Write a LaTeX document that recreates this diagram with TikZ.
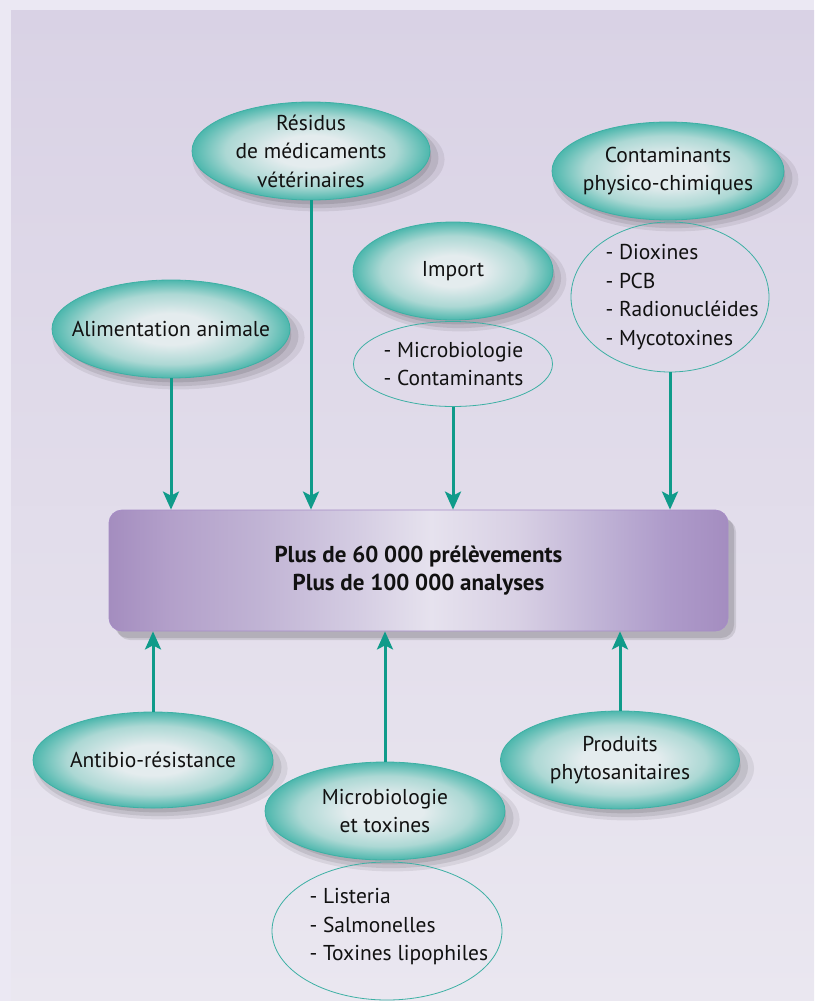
\documentclass[tikz,border=0pt]{standalone}
\usepackage{fontspec}
\setmainfont{PT Sans}
\usetikzlibrary{shapes.geometric,arrows.meta,shadows}
\definecolor{outerbg}{HTML}{EBE8F3}
\definecolor{paneltop}{HTML}{D9D2E5}
\definecolor{panelbot}{HTML}{EAE7F0}
\definecolor{arrteal}{HTML}{0F9B8A}
\definecolor{elldark}{HTML}{4DB7AD}
\definecolor{ellmid}{HTML}{ACD8D4}
\definecolor{elllight}{HTML}{E4ECEE}
\definecolor{ellline}{HTML}{3DB0A4}
\definecolor{boxa}{HTML}{A48DBF}
\definecolor{boxb}{HTML}{B3A0CA}
\definecolor{boxc}{HTML}{C0B3D4}
\definecolor{boxd}{HTML}{D4CCE2}
\definecolor{boxe}{HTML}{E6E2EE}
\definecolor{boxf}{HTML}{D8D0E4}
\definecolor{boxg}{HTML}{C2B6D7}
\definecolor{boxh}{HTML}{AE9BCA}
\definecolor{boxi}{HTML}{A48DC0}
\definecolor{boxline}{HTML}{A68DC6}
\definecolor{txt}{HTML}{111111}
\pgfdeclareradialshading{ellshade}{\pgfpoint{0bp}{0bp}}{color(0bp)=(elllight); color(8bp)=(elllight); color(18bp)=(ellmid); color(25bp)=(elldark); color(50bp)=(elldark)}
\pgfdeclarehorizontalshading{boxshade}{100bp}{color(0bp)=(boxa); color(25bp)=(boxa); color(30bp)=(boxb); color(37bp)=(boxc); color(45bp)=(boxd); color(51bp)=(boxe); color(58bp)=(boxf); color(64bp)=(boxg); color(70bp)=(boxh); color(75bp)=(boxi); color(100bp)=(boxi)}
\tikzset{
  softshadow/.style={
    general shadow={shadow xshift=7pt,shadow yshift=-8pt,shadow scale=1.06,fill=black,opacity=0.07},
    general shadow={shadow xshift=6pt,shadow yshift=-7pt,shadow scale=1.02,fill=black,opacity=0.09},
    general shadow={shadow xshift=5pt,shadow yshift=-6pt,shadow scale=0.97,fill=black,opacity=0.10}},
  ell/.style={ellipse, draw=ellline, line width=0.8pt, shading=ellshade,
    minimum width=238pt, minimum height=98pt, inner sep=0pt, softshadow},
  subell/.style={ellipse, draw=ellline, line width=0.8pt, inner sep=0pt},
  lbl/.style={align=center, text=txt, font=\fontsize{21.5}{28.5}\selectfont},
  lst/.style={align=left, text=txt, font=\fontsize{21.5}{28.5}\selectfont, anchor=west},
  bigbox/.style={rectangle, rounded corners=13pt, draw=boxline, line width=0.8pt,
    shading=boxshade, minimum width=619pt, minimum height=121pt, inner sep=0pt,
    general shadow={shadow xshift=8pt,shadow yshift=-9pt,fill=black,opacity=0.10},
    general shadow={shadow xshift=6pt,shadow yshift=-7pt,fill=black,opacity=0.12},
    align=center, text=txt, font=\fontsize{23}{28}\selectfont\bfseries},
  arr/.style={draw=arrteal, line width=3pt, -{Stealth[length=18pt,width=16pt,inset=4pt]}}
}
\begin{document}
\begin{tikzpicture}[x=1pt,y=-1pt]
\useasboundingbox (0,0) rectangle (814,1001);
\fill[outerbg] (0,0) rectangle (814,1001);
\fill[top color=paneltop, bottom color=panelbot] (11,10) rectangle (814,1001);

% top ellipses
\node[ell] (res) at (311,151) {};
\node[lbl] at (res) {Résidus\\de médicaments\\vétérinaires};
\node[ell, minimum width=232pt] (cont) at (668,171) {};
\node[lbl] at (cont) {Contaminants\\physico-chimiques};
\node[subell, minimum width=198pt, minimum height=150pt] (diox) at (670,297) {};
\node[lst] at (602,297) {- Dioxines\\- PCB\\- Radionucléides\\- Mycotoxines};
\node[ell, minimum width=200pt] (imp) at (453,271) {};
\node[lbl] at (imp) {Import};
\node[subell, minimum width=199pt, minimum height=85pt] (impsub) at (453,364) {};
\node[lst] at (380,364) {- Microbiologie\\- Contaminants};
\node[ell] (ali) at (171,329) {};
\node[lbl] at (ali) {Alimentation animale};

% central box
\node[bigbox] (box) at (418.5,570.5) {Plus de 60 000 prélèvements\\Plus de 100 000 analyses};

% bottom ellipses
\node[ell, minimum width=240pt, minimum height=96pt] (anti) at (153,760) {};
\node[lbl] at (anti) {Antibio-résistance};
\node[ell, minimum width=239pt] (prod) at (620,760) {};
\node[lbl] at (prod) {Produits\\phytosanitaires};
\node[ell, minimum width=240pt] (micro) at (385,811) {};
\node[lbl] at (micro) {Microbiologie\\et toxines};
\node[subell, minimum width=230pt, minimum height=138pt] (list) at (387,931) {};
\node[lst] at (306,927) {- Listeria\\- Salmonelles\\- Toxines lipophiles};

% arrows
\draw[arr] (ali.south) -- (ali.south |- box.north);
\draw[arr] (res.south) -- (res.south |- box.north);
\draw[arr] (impsub.south) -- (impsub.south |- box.north);
\draw[arr] (diox.south) -- (diox.south |- box.north);
\draw[arr] (anti.north) -- (anti.north |- box.south);
\draw[arr] (micro.north) -- (micro.north |- box.south);
\draw[arr] (prod.north) -- (prod.north |- box.south);
\end{tikzpicture}
\end{document}
